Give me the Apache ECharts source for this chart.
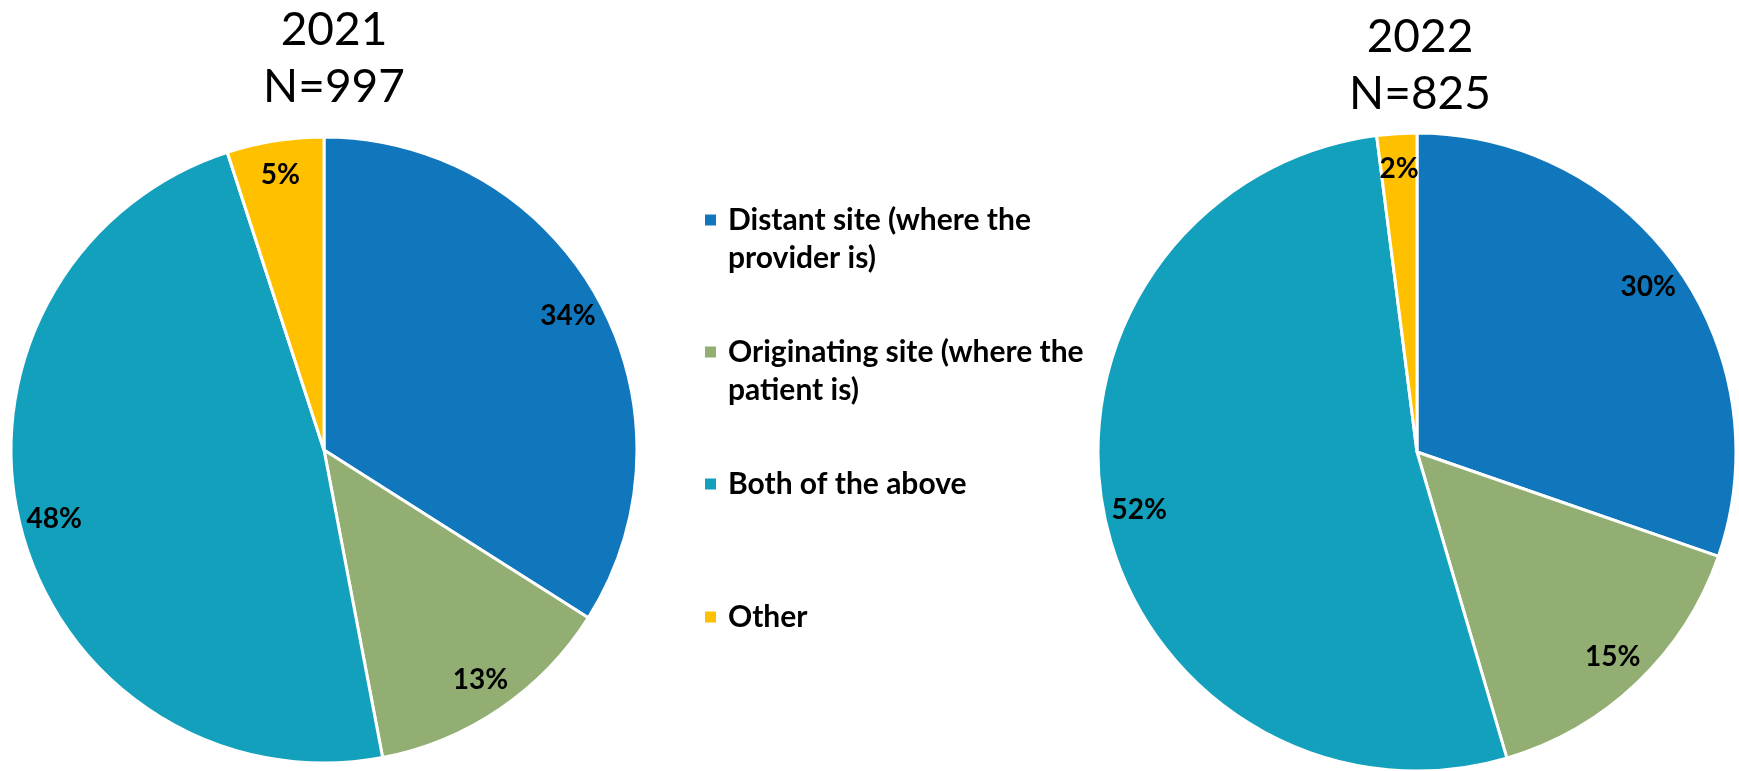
<!DOCTYPE html>
<html>
<head>
<meta charset="utf-8">
<script src="https://cdn.jsdelivr.net/npm/echarts@6/dist/echarts.min.js"></script>
<style>
html,body{margin:0;padding:0;background:#fff;}
#main{width:1739px;height:771px;}
</style>
</head>
<body>
<div id="main"></div>
<script>
const categories = ['Distant site (where the provider is)', 'Originating site (where the patient is)', 'Both of the above', 'Other'];
const legendLines = [['Distant site (where the', 'provider is)'], ['Originating site (where the', 'patient is)'], ['Both of the above'], ['Other']];
const values2021 = [34, 13, 48, 5];
const values2022 = [30, 15, 52, 2];
const titles = [['2021', 'N=997'], ['2022', 'N=825']];
const colors = ['#1177bd', '#92ae72', '#13a0bd', '#ffc000'];

const chart = echarts.init(document.getElementById('main'));
const FONT = 'Lato';

function pieSeries(vals, center, r) {
  const data = categories.map((c, i) => ({ name: c, value: vals[i] }));
  return [
    {
      type: 'pie', center: center, radius: [0, r], startAngle: 90, clockwise: true,
      data: data, label: { show: false }, labelLine: { show: false },
      itemStyle: { borderColor: '#fff', borderWidth: 3 }, emphasis: { disabled: true }, silent: true
    },
    {
      type: 'pie', center: center, radius: [r * 0.76, r], startAngle: 90, clockwise: true,
      data: data, silent: true, emphasis: { disabled: true },
      itemStyle: { color: 'rgba(0,0,0,0)', borderWidth: 0 },
      labelLine: { show: false },
      label: { show: true, position: 'inside', formatter: p => p.value + '%', color: '#000',
        fontFamily: FONT, fontWeight: 'bold', fontSize: 28 }
    }
  ];
}

const legendTops = [163, 295, 465, 598];
const legends = categories.map((c, i) => {
  const two = legendLines[i].length > 1;
  return {
    data: [c], orient: 'vertical', left: 703, top: legendTops[i], padding: 0,
    icon: 'rect', itemWidth: 13, itemHeight: 13, selectedMode: false,
    formatter: () => (two ? '\n' : '') + legendLines[i].join('\n'),
    textStyle: { fontFamily: FONT, fontWeight: 'bold', fontSize: 30, color: '#000', lineHeight: 38,
      padding: [0, 0, 0, 6] }
  };
});

const titleGraphics = [];
[[334, titles[0], 30], [1420, titles[1], 37]].forEach(([x, t, y0]) => {
  t.forEach((s, j) => {
    titleGraphics.push({ type: 'text', x: x, y: y0 + j * 57,
      style: { text: s, fill: '#000', font: 'normal 46px Lato', textAlign: 'center', textVerticalAlign: 'middle' } });
  });
});

chart.setOption({
  animation: false,
  color: colors,
  legend: legends,
  graphic: titleGraphics,
  series: [...pieSeries(values2021, [324, 450], 313), ...pieSeries(values2022, [1417, 452], 319)]
});
</script>
</body>
</html>
